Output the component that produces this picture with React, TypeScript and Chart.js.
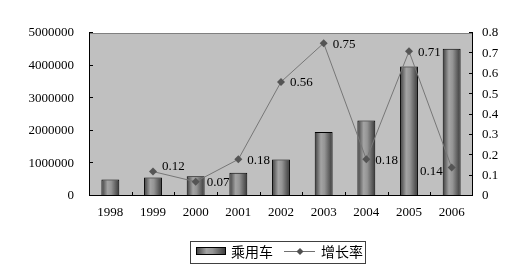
import React, { useEffect, useRef } from "react";
import { Chart, registerables } from "chart.js";

Chart.register(...registerables);

const categories = ["1998", "1999", "2000", "2001", "2002", "2003", "2004", "2005", "2006"];
const salesValues = [507000, 568000, 607000, 716000, 1118000, 1960000, 2314000, 3970000, 4520000];
const growthValues: (number | null)[] = [null, 0.12, 0.07, 0.18, 0.56, 0.75, 0.18, 0.71, 0.14];
const growthLabels = ["", "0.12", "0.07", "0.18", "0.56", "0.75", "0.18", "0.71", "0.14"];
const seriesNames = ["乘用车", "增长率"];

const SERIF = '"Liberation Serif", "Times New Roman", serif';
const CJK = '"Noto Sans CJK SC", sans-serif';

function barGradient(c: CanvasRenderingContext2D, x0: number, x1: number) {
  const g = c.createLinearGradient(x0, 0, x1, 0);
  g.addColorStop(0, "#3c3c3c");
  g.addColorStop(0.35, "#a4a4a4");
  g.addColorStop(0.55, "#959595");
  g.addColorStop(1, "#383838");
  return g;
}

const framePlugin = {
  id: "frame",
  beforeDraw(chart: any) {
    const { ctx, chartArea: a } = chart;
    ctx.save();
    ctx.fillStyle = "#c0c0c0";
    ctx.fillRect(a.left, a.top, a.right - a.left, a.bottom - a.top);
    ctx.restore();
  },
  afterDatasetsDraw(chart: any) {
    const { ctx, chartArea: a, scales } = chart;
    ctx.save();
    ctx.lineWidth = 1;
    ctx.strokeStyle = "#808080";
    ctx.beginPath();
    ctx.moveTo(a.left, a.top + 0.5);
    ctx.lineTo(a.right, a.top + 0.5);
    ctx.stroke();
    ctx.strokeStyle = "#000";
    ctx.beginPath();
    ctx.moveTo(a.left + 0.5, a.top);
    ctx.lineTo(a.left + 0.5, a.bottom);
    ctx.moveTo(a.right - 0.5, a.top);
    ctx.lineTo(a.right - 0.5, a.bottom);
    ctx.moveTo(a.left, a.bottom - 0.5);
    ctx.lineTo(a.right, a.bottom - 0.5);
    ctx.stroke();
    ctx.beginPath();
    scales.y.ticks.forEach((t: any) => {
      const y = Math.round(scales.y.getPixelForValue(t.value)) - 0.5;
      ctx.moveTo(a.left, y);
      ctx.lineTo(a.left + 4, y);
    });
    scales.y1.ticks.forEach((t: any) => {
      const y = Math.round(scales.y1.getPixelForValue(t.value)) - 0.5;
      ctx.moveTo(a.right, y);
      ctx.lineTo(a.right - 4, y);
    });
    const n = categories.length;
    for (let i = 1; i < n; i++) {
      const x = Math.round(a.left + ((a.right - a.left) * i) / n) + 0.5;
      ctx.moveTo(x, a.bottom);
      ctx.lineTo(x, a.bottom - 4);
    }
    ctx.stroke();
    ctx.restore();
  },
};

const labelPlugin = {
  id: "pointLabels",
  afterDatasetsDraw(chart: any) {
    const { ctx } = chart;
    const meta = chart.getDatasetMeta(1);
    ctx.save();
    ctx.font = "13px " + SERIF;
    ctx.fillStyle = "#000";
    ctx.textBaseline = "middle";
    meta.data.forEach((pt: any, i: number) => {
      const txt = growthLabels[i];
      if (!txt || growthValues[i] == null) return;
      let x = pt.x + 9;
      let y = pt.y + 1;
      ctx.textAlign = "left";
      if (i === 1) {
        y = pt.y - 5;
      } else if (i === 2) {
        x = pt.x + 11;
      } else if (i === 8) {
        ctx.textAlign = "right";
        x = pt.x - 9;
        y = pt.y + 4;
      }
      ctx.fillText(txt, x, y);
    });
    ctx.restore();
  },
};

const legendPlugin = {
  id: "customLegend",
  afterDraw(chart: any) {
    const { ctx } = chart;
    ctx.save();
    ctx.fillStyle = "#fff";
    ctx.fillRect(190, 241, 175, 22);
    ctx.strokeStyle = "#404040";
    ctx.lineWidth = 1;
    ctx.strokeRect(190.5, 241.5, 175, 22);
    ctx.fillStyle = barGradient(ctx, 196, 226);
    ctx.fillRect(196, 247, 30, 8);
    ctx.strokeStyle = "#000";
    ctx.strokeRect(196.5, 247.5, 29, 7);
    ctx.fillStyle = "#000";
    ctx.font = "14px " + CJK;
    ctx.textBaseline = "middle";
    ctx.textAlign = "left";
    ctx.fillText(seriesNames[0], 231, 252);
    ctx.strokeStyle = "#707070";
    ctx.beginPath();
    ctx.moveTo(284, 251.5);
    ctx.lineTo(315, 251.5);
    ctx.stroke();
    ctx.fillStyle = "#505050";
    ctx.beginPath();
    ctx.moveTo(300, 248);
    ctx.lineTo(303.5, 251.5);
    ctx.lineTo(300, 255);
    ctx.lineTo(296.5, 251.5);
    ctx.closePath();
    ctx.fill();
    ctx.fillStyle = "#000";
    ctx.fillText(seriesNames[1], 321, 252);
    ctx.restore();
  },
};

export default function App() {
  const ref = useRef<HTMLCanvasElement>(null);
  useEffect(() => {
    if (!ref.current) return;
    const chart = new Chart(ref.current, {
      type: "bar",
      data: {
        labels: categories,
        datasets: [
          {
            type: "bar",
            label: seriesNames[0],
            data: salesValues,
            yAxisID: "y",
            order: 2,
            barPercentage: 0.42,
            categoryPercentage: 1,
            borderColor: "#000",
            borderWidth: 1,
            backgroundColor: (c: any) => {
              const ch = c.chart;
              if (!ch.chartArea || c.dataIndex == null || !ch.scales.x) return "#888";
              const x = ch.scales.x.getPixelForValue(c.dataIndex);
              return barGradient(ch.ctx, x - 9, x + 9);
            },
          } as any,
          {
            type: "line",
            label: seriesNames[1],
            data: growthValues,
            yAxisID: "y1",
            order: 1,
            borderColor: "#777777",
            borderWidth: 1,
            pointStyle: "rectRot",
            pointRadius: 4,
            pointBackgroundColor: "#555555",
            pointBorderColor: "#555555",
            pointBorderWidth: 0,
            tension: 0,
          } as any,
        ],
      },
      options: {
        responsive: false,
        animation: false,
        layout: { padding: { top: 33, left: 0, right: 0, bottom: 0 } },
        plugins: { legend: { display: false }, tooltip: { enabled: false } },
        scales: {
          x: {
            offset: true,
            grid: { display: false, drawTicks: false },
            border: { display: false },
            ticks: { color: "#000", font: { family: SERIF, size: 13 }, padding: 9, maxRotation: 0 },
            afterFit: (s: any) => {
              s.height = 79;
            },
          },
          y: {
            position: "left",
            min: 0,
            max: 5000000,
            grid: { display: false, drawTicks: false },
            border: { display: false },
            ticks: {
              stepSize: 1000000,
              color: "#000",
              font: { family: SERIF, size: 13 },
              padding: 15,
              callback: (v: any) => String(v),
            },
            afterFit: (s: any) => {
              s.width = 89;
            },
          },
          y1: {
            position: "right",
            min: 0,
            max: 0.8,
            grid: { display: false, drawTicks: false },
            border: { display: false },
            ticks: {
              stepSize: 0.1,
              color: "#000",
              font: { family: SERIF, size: 13 },
              padding: 9,
              callback: (v: any) => (Number(v) === 0 ? "0" : Number(v).toFixed(1)),
            },
            afterFit: (s: any) => {
              s.width = 55;
            },
          },
        },
      },
      plugins: [framePlugin, labelPlugin, legendPlugin],
    });
    return () => chart.destroy();
  }, []);
  return (
    <div style={{ position: "absolute", left: 0, top: 0, width: 528, height: 275, background: "#fff" }}>
      <canvas ref={ref} width={528} height={275} style={{ display: "block" }} />
    </div>
  );
}
